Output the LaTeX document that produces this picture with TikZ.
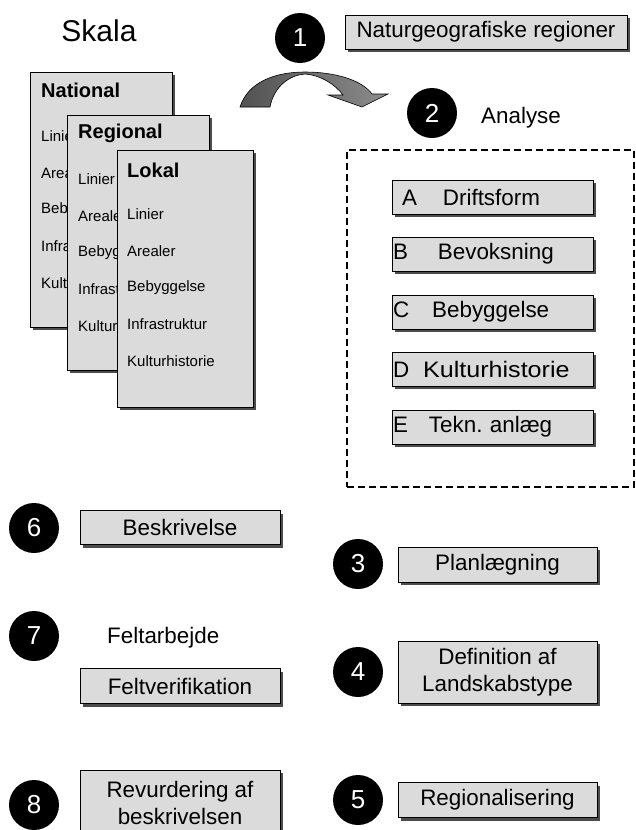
\documentclass[tikz,border=0pt]{standalone}
\usepackage{fontspec}
\setmainfont{Liberation Sans}
\usetikzlibrary{shadows}
\frenchspacing

\tikzset{
  shade3/.style={drop shadow={shadow xshift=3pt, shadow yshift=-3pt, fill=black!70, opacity=1}},
  box/.style={draw, line width=0.8pt, fill=black!14, shade3, inner sep=0pt,
    font=\fontsize{22.4}{27.5}\selectfont},
  twobox/.style={box, align=center},
  letterbox/.style={box, minimum height=34pt, text width=199pt, inner xsep=1pt, align=left},
  card/.style={draw, line width=0.8pt, fill=black!14, shade3, anchor=north west,
    minimum width=142pt, minimum height=255pt, inner sep=0pt},
  cardtitle/.style={anchor=west, inner sep=0pt, font=\fontsize{20}{20}\selectfont\bfseries},
  carditem/.style={anchor=west, inner sep=0pt, font=\fontsize{15}{15}\selectfont},
  num/.style={circle, fill=black, text=white, minimum size=50pt, inner sep=0pt,
    font=\fontsize{26}{26}\selectfont},
  dashbox/.style={draw, line width=1.5pt, dash pattern=on 7pt off 4pt, inner sep=0pt},
}

\begin{document}
\begin{tikzpicture}[x=1pt, y=-1pt]
\useasboundingbox (0,0) rectangle (636,830);

% skala
\node[font=\fontsize{30}{30}\selectfont] (skala) at (99,31) {Skala};

\node[card] (natl) at (30,72) {};
\node[cardtitle] (natl-t) at (41,90) {National};
\node[carditem] (natl-1) at (41,136.5) {Linier};
\node[carditem] (natl-2) at (41,173.2) {Arealer};
\node[carditem] (natl-3) at (41,209.9) {Bebyggelse};
\node[carditem] (natl-4) at (41,246.6) {Infrastruktur};
\node[carditem] (natl-5) at (41,283.3) {Kulturhistorie};

\node[card] (regl) at (67,115) {};
\node[cardtitle] (regl-t) at (78,133) {Regional};
\node[carditem] (regl-1) at (78,179.5) {Linier};
\node[carditem] (regl-2) at (78,216.2) {Arealer};
\node[carditem] (regl-3) at (78,252.9) {Bebyggelse};
\node[carditem] (regl-4) at (78,289.6) {Infrastruktur};
\node[carditem] (regl-5) at (78,326.3) {Kulturhistorie};

\node[card, minimum width=136pt, minimum height=257pt] (lokl) at (117,150) {};
\node[cardtitle] (lokl-t) at (127,170) {Lokal};
\node[carditem] (lokl-1) at (127,214.5) {Linier};
\node[carditem] (lokl-2) at (127,251.2) {Arealer};
\node[carditem] (lokl-3) at (127,287.9) {Bebyggelse};
\node[carditem] (lokl-4) at (127,324.6) {Infrastruktur};
\node[carditem] (lokl-5) at (127,361.3) {Kulturhistorie};

% 1 and 2
\node[num] (n1) at (300,38) {1};
\node[box, minimum width=282pt, minimum height=34pt] (natgeo) at (486,32) {Naturgeografiske regioner};
\draw[line width=0.6pt, left color=black!68, right color=black!45]
  (240,107) .. controls (248,82) and (275,72) .. (305,72)
  .. controls (335,72) and (362,80) .. (372,94) -- (388,94) -- (362,107) -- (328,95) -- (343,95)
  .. controls (335,84) and (320,75) .. (305,74)
  .. controls (290,75) and (274,86) .. (270,107) -- cycle;
\node[num] (n2) at (432,113) {2};
\node[anchor=base west, inner sep=0pt, font=\fontsize{22.4}{22.4}\selectfont] (analyse) at (481,123) {Analyse};

% A-E
\node[dashbox, minimum width=287pt, minimum height=337pt] (analysebox) at (490.5,318.5) {};
\node[letterbox] (bA) at (492.5,197) {\hspace*{9pt}A\hspace{26pt}Driftsform};
\node[letterbox] (bB) at (492.5,254) {B\hspace{30pt}Bevoksning};
\node[letterbox] (bC) at (492.5,312) {C\hspace{23pt}Bebyggelse};
\node[letterbox] (bD) at (492.5,369) {D\hspace{14pt}\scalebox{1.12}[1]{Kulturhistorie}};
\node[letterbox] (bE) at (492.5,427) {E\hspace{21pt}Tekn. anlæg};

% left column
\node[num] (n6) at (34,528) {6};
\node[box, minimum width=200pt, minimum height=34pt] (beskr) at (180,527.5) {Beskrivelse};
\node[num] (n7) at (34,636) {7};
\node[anchor=base west, inner sep=0pt, font=\fontsize{22.4}{22.4}\selectfont] (felt) at (107,643) {Feltarbejde};
\node[box, minimum width=200pt, minimum height=35pt] (feltv) at (180,686) {Feltverifikation};
\node[num] (n8) at (34,805) {8};
\node[twobox, minimum width=200pt, minimum height=66pt] (revurd) at (180,803) {Revurdering af\\beskrivelsen};

% right column
\node[num] (n3) at (358,564) {3};
\node[box, minimum width=199pt, minimum height=35pt] (plan) at (497.5,564.5) {Planlægning};
\node[num] (n4) at (358,672) {4};
\node[twobox, minimum width=199pt, minimum height=62pt] (defin) at (497.5,672) {Definition af\\Landskabstype};
\node[num] (n5) at (358,800) {5};
\node[box, minimum width=199pt, minimum height=35pt] (region) at (497.5,800) {Regionalisering};
\end{tikzpicture}
\end{document}
